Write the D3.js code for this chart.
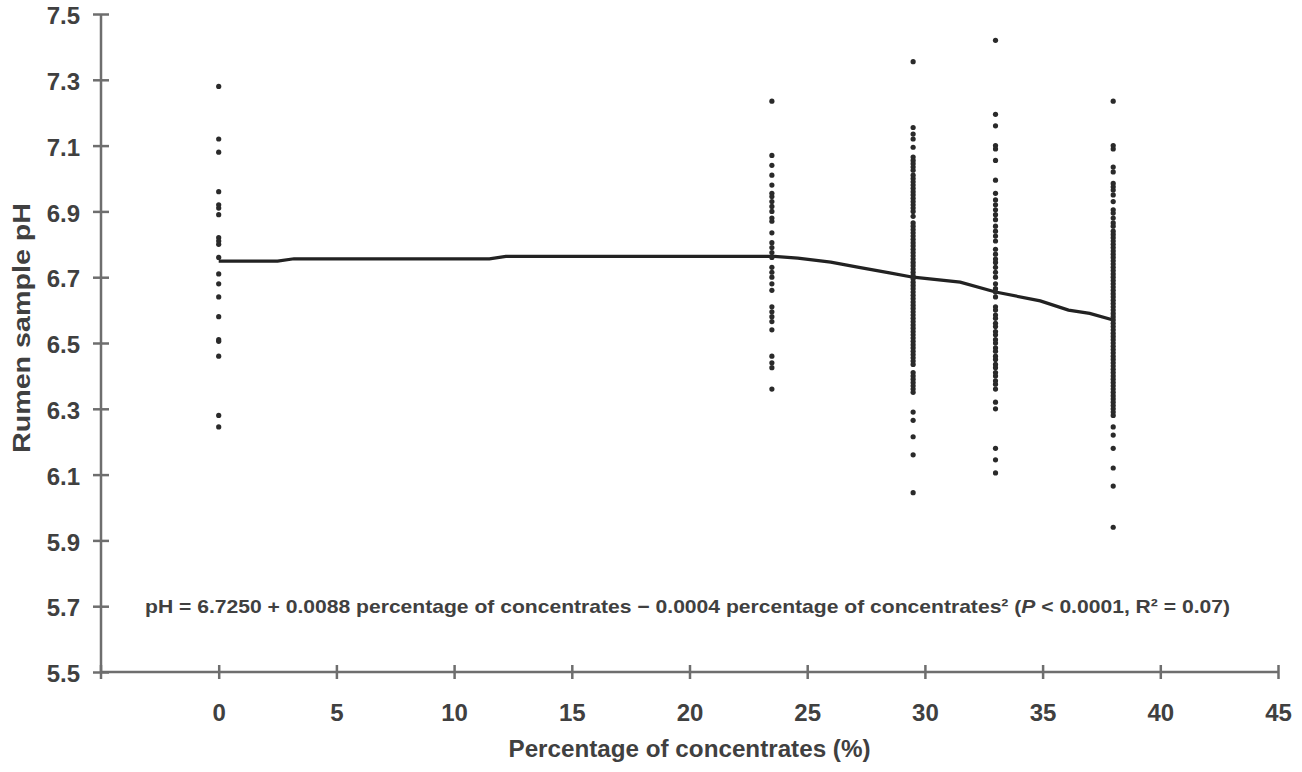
<!DOCTYPE html>
<html lang="en">
<head>
<meta charset="utf-8">
<title>Rumen sample pH vs percentage of concentrates</title>
<script src="https://cdn.jsdelivr.net/npm/d3@7"></script>
<style>
	body { margin: 0; background: #fff; }
	text { font-family: "Liberation Sans", Arial, Helvetica, sans-serif; font-weight: bold; fill: #404040; }
</style>
</head>
<body>
<div id="chart"></div>
<script>

// x positions of the sample groups (% concentrates)
var groups = [0, 23.5, 29.5, 33, 38];

// pH readings for each group
var ph0 = [7.28, 7.12, 7.08, 6.96, 6.92, 6.91, 6.89, 6.82, 6.81, 6.80, 6.76, 6.71, 6.68, 6.64, 6.58, 6.51, 6.505, 6.46, 6.28, 6.245];
var ph235 = [7.235, 7.07, 7.04, 7.01, 6.98, 6.955, 6.945, 6.93, 6.915, 6.90, 6.88, 6.87, 6.835, 6.805, 6.79, 6.775, 6.76,
	6.73, 6.715, 6.70, 6.68, 6.66, 6.61, 6.595, 6.58, 6.565, 6.54, 6.46, 6.44, 6.425, 6.36];
var ph295 = [7.355, 7.155, 7.135, 7.12, 7.095, 7.065, 7.055, 7.045, 7.035, 7.025, 7.01, 7.0, 6.99, 6.98, 6.97, 6.96, 6.95,
	6.94, 6.93, 6.92, 6.91, 6.90, 6.885, 6.865, 6.855, 6.845, 6.835, 6.825, 6.815, 6.805, 6.795, 6.785, 6.775, 6.765,
	6.755, 6.745, 6.735, 6.725, 6.715, 6.705, 6.695, 6.685, 6.675, 6.665, 6.655, 6.645, 6.635, 6.625, 6.615, 6.605,
	6.595, 6.585, 6.575, 6.565, 6.555, 6.545, 6.535, 6.525, 6.515, 6.505, 6.495, 6.485, 6.475, 6.465, 6.455, 6.445,
	6.435, 6.41, 6.40, 6.39, 6.38, 6.37, 6.36, 6.35, 6.29, 6.265, 6.215, 6.16, 6.045];
var ph33 = [7.42, 7.195, 7.16, 7.10, 7.09, 7.055, 6.995, 6.955, 6.935, 6.92, 6.905, 6.89, 6.875, 6.855, 6.84, 6.825, 6.81,
	6.785, 6.77, 6.755, 6.745, 6.73, 6.715, 6.70, 6.68, 6.665, 6.655, 6.64, 6.61, 6.60, 6.585, 6.575, 6.56, 6.55,
	6.535, 6.525, 6.51, 6.50, 6.485, 6.475, 6.46, 6.45, 6.435, 6.425, 6.41, 6.40, 6.385, 6.375, 6.36, 6.32, 6.30,
	6.18, 6.145, 6.105];
var ph38 = [7.235, 7.10, 7.09, 7.035, 7.02, 6.985, 6.975, 6.965, 6.95, 6.93, 6.905, 6.895, 6.88, 6.865, 6.855,
	6.84, 6.83, 6.82, 6.81, 6.80, 6.79, 6.78, 6.77, 6.76, 6.75, 6.74, 6.73, 6.72, 6.71, 6.70, 6.69, 6.68, 6.67,
	6.66, 6.65, 6.64, 6.63, 6.62, 6.61, 6.60, 6.59, 6.58, 6.57, 6.56, 6.55, 6.54, 6.53, 6.52, 6.51, 6.50, 6.49,
	6.48, 6.47, 6.46, 6.45, 6.44, 6.43, 6.42, 6.41, 6.40, 6.39, 6.38, 6.37, 6.36, 6.35, 6.34, 6.33, 6.32, 6.31,
	6.30, 6.29, 6.28, 6.245, 6.22, 6.18, 6.12, 6.065, 5.94];
var phByGroup = [ph0, ph235, ph295, ph33, ph38];

// fitted curve as drawn
var lineX = [0, 2.5, 3.2, 11.5, 12.2, 23.6, 24.6, 26, 27.2, 28.5, 29.5, 31.5, 33, 34.9, 36.1, 37, 38];
var lineY = [6.749, 6.749, 6.756, 6.756, 6.763, 6.763, 6.758, 6.746, 6.73, 6.713, 6.70, 6.685, 6.655, 6.628, 6.60, 6.59, 6.57];

// axis ticks
var xTicks = [0, 5, 10, 15, 20, 25, 30, 35, 40, 45];
var yTicks = [5.5, 5.7, 5.9, 6.1, 6.3, 6.5, 6.7, 6.9, 7.1, 7.3, 7.5];

var outer_width = 1302;
var outer_height = 772;
var margin = {top: 14, right: 24, bottom: 100, left: 101};
var width = outer_width - margin.left - margin.right;
var height = outer_height - margin.top - margin.bottom;

var svg = d3.select("#chart").append("svg")
	.attr("width", outer_width)
	.attr("height", outer_height)
	.style("background", "#fff");

var g = svg.append("g")
	.attr("transform", "translate(" + margin.left + "," + margin.top + ")");

var xScale = d3.scaleLinear().domain([-5, 45]).range([0, width]);
var yScale = d3.scaleLinear().domain([5.5, 7.5]).range([height, 0]);

// flatten points
var points = [];
groups.forEach(function(gx, i) {
	phByGroup[i].forEach(function(v) { points.push({x: gx, y: v}); });
});

// axes
var xAxis = d3.axisBottom(xScale).tickValues(xTicks).tickSize(7).tickFormat(d3.format("d"));
var yAxis = d3.axisLeft(yScale).tickValues(yTicks).tickSize(8).tickFormat(d3.format(".1f"));

var gx = g.append("g")
	.attr("transform", "translate(0," + height + ")")
	.call(xAxis);
gx.selectAll(".tick line").attr("y1", -7).attr("y2", 7);
gx.selectAll(".tick text").attr("y", 49).attr("dy", null);

var gy = g.append("g").call(yAxis);
gy.selectAll(".tick line").attr("x1", -8).attr("x2", 8);
gy.selectAll(".tick text").attr("x", -21).attr("dy", "0.4em");

// tick at the axis origin on the x axis
gx.append("line").attr("x1", 0).attr("x2", 0).attr("y1", -7).attr("y2", 7);

gx.select(".domain").remove();
gy.select(".domain").remove();
gx.append("line").attr("x1", 0).attr("x2", width).attr("y1", 0).attr("y2", 0);
gy.append("line").attr("x1", 0).attr("x2", 0).attr("y1", 0).attr("y2", height);
g.selectAll("line").attr("stroke", "#6e6e6e").attr("stroke-width", 2.5);
g.selectAll(".tick text")
	.style("font-size", "24px")
	.style("font-family", "'Liberation Sans', Arial, sans-serif")
	.style("font-weight", "bold")
	.attr("fill", "#454545");

// fitted line
var line = d3.line()
	.x(function(d) { return xScale(d[0]); })
	.y(function(d) { return yScale(d[1]); });
g.append("path")
	.datum(d3.zip(lineX, lineY))
	.attr("d", line)
	.attr("fill", "none")
	.attr("stroke", "#222")
	.attr("stroke-width", 3.2);

// dots
g.selectAll("circle.pt")
	.data(points)
	.enter()
	.append("circle")
	.attr("class", "pt")
	.attr("cx", function(d) { return xScale(d.x); })
	.attr("cy", function(d) { return yScale(d.y); })
	.attr("r", 2.6)
	.attr("fill", "#2a2a2a");

// equation
var eq = g.append("text")
	.attr("x", 44)
	.attr("y", yScale(5.7) + 7)
	.style("font-size", "19px");
eq.append("tspan").text("pH = 6.7250 + 0.0088 percentage of concentrates \u2212 0.0004 percentage of concentrates\u00b2 (");
eq.append("tspan").style("font-style", "italic").text("P");
eq.append("tspan").text(" < 0.0001, R\u00b2 = 0.07)");
eq.attr("textLength", 1085).attr("lengthAdjust", "spacingAndGlyphs");

// axis titles
svg.append("text")
	.attr("x", margin.left + width / 2)
	.attr("y", 757)
	.attr("text-anchor", "middle")
	.style("font-size", "23px")
	.attr("textLength", 362)
	.attr("lengthAdjust", "spacingAndGlyphs")
	.text("Percentage of concentrates (%)");

svg.append("text")
	.attr("transform", "translate(30,328) rotate(-90)")
	.attr("text-anchor", "middle")
	.style("font-size", "23px")
	.attr("textLength", 250)
	.attr("lengthAdjust", "spacingAndGlyphs")
	.text("Rumen sample pH");

</script>
</body>
</html>
